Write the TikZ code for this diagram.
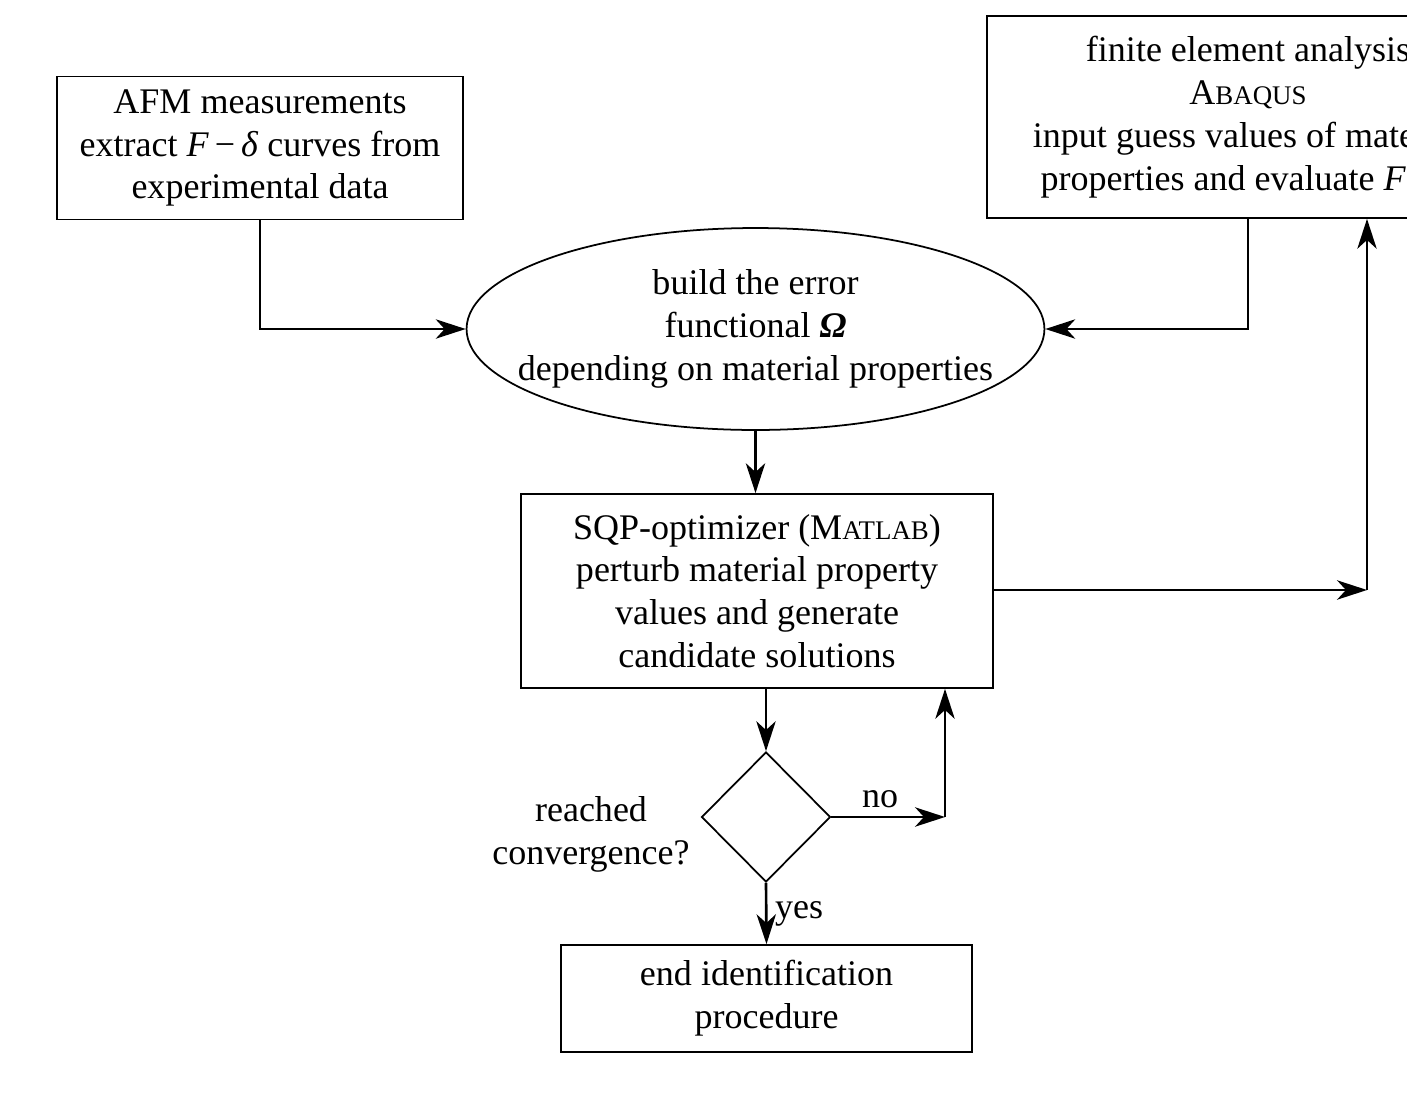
\documentclass[tikz,border=0pt]{standalone}
\usepackage{fontspec}
\setmainfont{Liberation Serif}
\usetikzlibrary{arrows.meta,shapes.geometric}
\newcommand{\smallcap}[1]{{\fontsize{15.3}{18}\selectfont #1}}

\begin{document}
\begin{tikzpicture}[x=0.02cm,y=-0.02cm,
   every node/.style={font=\fontsize{20.5}{24.4}\selectfont},
   box/.style={draw,line width=1pt,align=center,inner sep=0pt},
   arr/.style={line width=1.5pt,-{Stealth[length=17pt,width=11pt,inset=5pt]}}]
   \useasboundingbox (0,0) rectangle (1407,1093);
   \node[box,minimum width=8.12cm,minimum height=2.86cm] (afm) at (260,148)
      {AFM measurements\\extract \textit{F}\,−\,\textit{δ} curves from\\experimental data};
   \node[box,minimum width=10.44cm,minimum height=4.04cm] (fea) at (1248,117)
      {finite element analysis\\A\smallcap{BAQUS}\\input guess values of material\\properties and evaluate \textit{F}\,−\,\textit{δ}};
   \node[box,ellipse,inner xsep=-0.8cm,minimum width=11.56cm,minimum height=4.04cm] (err) at (755.5,329)
      {build the error\\functional \textbf{\textit{Ω}}\\depending on material properties};
   \node[box,minimum width=9.44cm,minimum height=3.88cm] (sqp) at (757,591)
      {SQP-optimizer (M\smallcap{ATLAB})\\perturb material property\\values and generate\\candidate solutions};
   \node[box,diamond,minimum width=2.58cm,minimum height=2.6cm] (conv) at (766,817) {};
   \node[align=center] (ask) at (591,834) {reached\\convergence?};
   \node[box,minimum width=8.22cm,minimum height=2.14cm] (end) at (766.5,998.5)
      {end identification\\procedure};
   \coordinate (right) at (1367,590);
   \coordinate (back) at (945,817);
   \draw[arr] (afm.south) |- (err.west);
   \draw[arr] (fea.south) |- (err.east);
   \draw[arr] (err.south) -- (err.south |- sqp.north);
   \draw[arr] (sqp.east |- right) -- (right);
   \draw[arr] (right) -- (right |- fea.south);
   \draw[arr] (sqp.south -| conv.north) -- (conv.north);
   \draw[arr] (conv.east) -- node[above=1pt,pos=0.43]{no} (back);
   \draw[arr] (back) -- (back |- sqp.south);
   \draw[arr] (conv.south) -- node[right=1pt,pos=0.5]{yes} (end.north);
\end{tikzpicture}
\end{document}
